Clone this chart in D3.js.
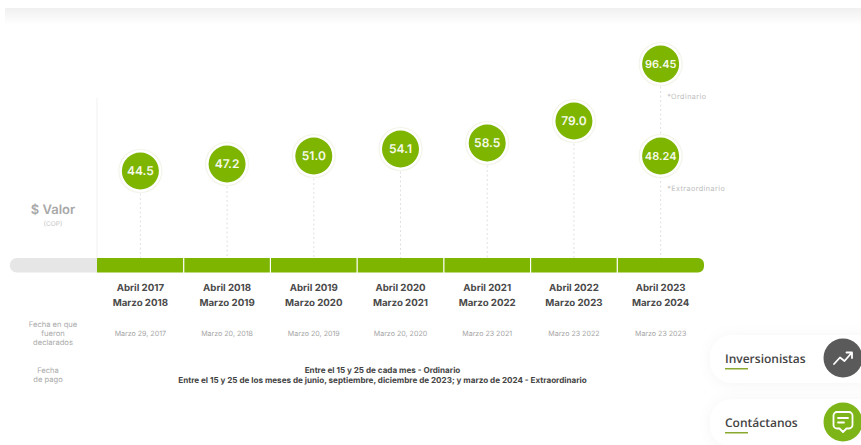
<!DOCTYPE html>
<html lang="es">
<head>
<meta charset="utf-8">
<title>Dividendos por periodo</title>
<script src="https://cdn.jsdelivr.net/npm/d3@7/dist/d3.min.js"></script>
<style>
  html, body { margin: 0; padding: 0; background: #fff; overflow: hidden; }
  svg { display: block; font-family: Inter, "Open Sans", sans-serif; text-rendering: geometricPrecision; }
</style>
</head>
<body>
<div id="chart"></div>
<script>
// Dividend periods and values
const periodStart = ["Abril 2017", "Abril 2018", "Abril 2019", "Abril 2020", "Abril 2021", "Abril 2022", "Abril 2023"];
const periodEnd = ["Marzo 2018", "Marzo 2019", "Marzo 2020", "Marzo 2021", "Marzo 2022", "Marzo 2023", "Marzo 2024"];
const declaredDates = ["Marzo 29, 2017", "Marzo 20, 2018", "Marzo 20, 2019", "Marzo 20, 2020", "Marzo 23 2021", "Marzo 23 2022", "Marzo 23 2023"];
const ordinaryValues = ["44.5", "47.2", "51.0", "54.1", "58.5", "79.0", "96.45"];
const extraordinaryValues = [null, null, null, null, null, null, "48.24"];
const paymentLines = [
  "Entre el 15 y 25 de cada mes - Ordinario",
  "Entre el 15 y 25 de los meses de junio, septiembre, diciembre de 2023; y marzo de 2024 - Extraordinario"
];
const declaredLabel = ["Fecha en que", "fueron", "declarados"];
const paymentLabel = ["Fecha", "de pago"];

// The value axis is a stepped, non-proportional ramp
const rampValues = [44.5, 47.2, 48.24, 51, 54.1, 58.5, 79, 96.45];
const rampPixels = [171, 164, 156, 156, 149, 143, 121, 64];

const width = 861, height = 445;
const GREEN = "#7db500", BAND_TOP = 258, BAND_H = 14.5;

const svg = d3.select("#chart").append("svg")
  .attr("width", width).attr("height", height).attr("viewBox", [0, 0, width, height]);

const defs = svg.append("defs");
const topFade = defs.append("linearGradient").attr("id", "topFade")
  .attr("x1", 0).attr("x2", 0).attr("y1", 0).attr("y2", 1);
topFade.append("stop").attr("offset", 0).attr("stop-color", "#f0f0f0");
topFade.append("stop").attr("offset", 1).attr("stop-color", "#ffffff");

const cardShadow = defs.append("filter").attr("id", "cardShadow")
  .attr("x", "-20%").attr("y", "-40%").attr("width", "140%").attr("height", "180%");
cardShadow.append("feDropShadow").attr("dx", 0).attr("dy", 1).attr("stdDeviation", 7)
  .attr("flood-color", "#000").attr("flood-opacity", 0.045);

const x = d3.scaleBand().domain(periodStart).range([97, 704]);
const y = d3.scaleLinear().domain(rampValues).range(rampPixels);
const cx = d => x(d) + x.bandwidth() / 2;

// Header shadow along the top edge
svg.append("rect").attr("x", 5).attr("y", 8).attr("width", width - 5).attr("height", 17)
  .attr("fill", "url(#topFade)");

// Left rule of the chart area
svg.append("line").attr("x1", 97).attr("x2", 97).attr("y1", 98).attr("y2", BAND_TOP)
  .attr("stroke", "#f1f1f1");

// Dashed stems from each marker down to the band
svg.append("g").selectAll("line").data(periodStart).join("line")
  .attr("x1", cx).attr("x2", cx)
  .attr("y1", (d, i) => y(+ordinaryValues[i]))
  .attr("y2", BAND_TOP)
  .attr("stroke", "#e0e0e0").attr("stroke-width", 1).attr("stroke-dasharray", "2 2.5");

// Timeline band: grey lead-in, green periods
svg.append("path")
  .attr("d", `M97,${BAND_TOP}H17a7.25,7.25 0 0 0 0,${BAND_H}H97Z`)
  .attr("fill", "#e6e6e6");
svg.append("g").selectAll("path").data(periodStart).join("path")
  .attr("fill", GREEN)
  .attr("d", (d, i) => {
    const l = x(d), r = l + x.bandwidth(), last = i === periodStart.length - 1;
    return last
      ? `M${l},${BAND_TOP}H${r - 6}a6,6 0 0 1 6,6V${BAND_TOP + BAND_H - 6}a6,6 0 0 1 -6,6H${l}Z`
      : `M${l},${BAND_TOP}H${r}V${BAND_TOP + BAND_H}H${l}Z`;
  });
svg.append("g").selectAll("line").data(periodStart.slice(1)).join("line")
  .attr("x1", d => x(d)).attr("x2", d => x(d))
  .attr("y1", BAND_TOP - 1).attr("y2", BAND_TOP + BAND_H + 1)
  .attr("stroke", "#fff").attr("stroke-width", 1.2);

// Value markers
const markers = periodStart.flatMap((p, i) => {
  const list = [{ p, label: ordinaryValues[i] }];
  if (extraordinaryValues[i]) list.push({ p, label: extraordinaryValues[i] });
  return list;
});
const marker = svg.append("g").selectAll("g").data(markers).join("g")
  .attr("transform", d => `translate(${cx(d.p)},${y(+d.label)})`);
marker.append("circle").attr("r", 21.5).attr("fill", "#fff").attr("stroke", "#f3f4ea").attr("stroke-width", 1.2);
marker.append("circle").attr("r", 18.5).attr("fill", GREEN);
marker.append("text").attr("text-anchor", "middle").attr("dy", "0.36em")
  .attr("fill", "#f6faea").attr("font-weight", 600)
  .attr("font-size", d => d.label.length > 4 ? 11 : 12)
  .text(d => d.label);

// Notes next to the last column
const noteX = cx(periodStart[6]) + 6.5;
svg.append("text").attr("x", noteX).attr("y", 98.5).attr("font-size", 7.2)
  .attr("letter-spacing", 0.45).attr("fill", "#bcbcbc").text("*Ordinario");
svg.append("text").attr("x", noteX).attr("y", 190.5).attr("font-size", 7.2)
  .attr("letter-spacing", 0.45).attr("fill", "#bcbcbc").text("*Extraordinario");

// Period labels under the band
const labels = svg.append("g").attr("text-anchor", "middle").attr("fill", "#4a4a4a")
  .attr("font-weight", 700).attr("font-size", 9.7);
labels.selectAll(".start").data(periodStart).join("text").attr("class", "start")
  .attr("x", cx).attr("y", 290.5).text(d => d);
labels.selectAll(".end").data(periodEnd).join("text").attr("class", "end")
  .attr("x", (d, i) => cx(periodStart[i])).attr("y", 305.5).text(d => d);

// Declaration dates
svg.append("g").attr("text-anchor", "middle").attr("fill", "#a6a6a6").attr("font-size", 7.1)
  .selectAll("text").data(declaredDates).join("text")
  .attr("x", (d, i) => cx(periodStart[i])).attr("y", 335.5).text(d => d);

// Left column captions
svg.append("text").attr("x", 53).attr("y", 213.5).attr("text-anchor", "middle")
  .attr("font-size", 13).attr("font-weight", 600).attr("fill", "#a8a8a8").text("$ Valor");
svg.append("text").attr("x", 53).attr("y", 225.5).attr("text-anchor", "middle")
  .attr("font-size", 6.6).attr("fill", "#c6c6c6").text("(COP)");
svg.append("g").attr("text-anchor", "middle").attr("fill", "#ababab").attr("font-size", 7.6)
  .selectAll("text").data(declaredLabel).join("text")
  .attr("x", 53).attr("y", (d, i) => 326.5 + i * 9.2).text(d => d);
svg.append("g").attr("text-anchor", "middle").attr("fill", "#ababab").attr("font-size", 7.6)
  .selectAll("text").data(paymentLabel).join("text")
  .attr("x", 48).attr("y", (d, i) => 372.5 + i * 9.5).text(d => d);

// Payment schedule
svg.append("g").attr("text-anchor", "middle").attr("fill", "#444").attr("font-weight", 700).attr("font-size", 8.1)
  .selectAll("text").data(paymentLines).join("text")
  .attr("x", 382.5).attr("y", (d, i) => 372.5 + i * 10).text(d => d);

// Floating shortcut buttons
const shortcuts = [
  { name: "Inversionistas", top: 335, circle: "#5a5a5a" },
  { name: "Contáctanos", top: 399, circle: "#7db518" }
];
const shortcut = svg.append("g").selectAll("g").data(shortcuts).join("g")
  .attr("transform", d => `translate(0,${d.top})`);
shortcut.append("rect").attr("x", 710).attr("width", 170).attr("height", 48).attr("rx", 22)
  .attr("fill", "#fff").attr("filter", "url(#cardShadow)");
shortcut.append("text").attr("x", 725).attr("y", 27.5)
  .style("font-family", "'Open Sans', sans-serif").attr("font-weight", 600)
  .attr("font-size", 12).attr("fill", "#444").text(d => d.name);
shortcut.append("rect").attr("x", 725).attr("y", 33).attr("width", 23).attr("height", 1.5).attr("fill", "#8aa82e");
shortcut.append("circle").attr("cx", 843).attr("cy", 23).attr("r", 19.5).attr("fill", d => d.circle);

// Trend arrow icon
shortcut.filter((d, i) => i === 0).append("path")
  .attr("d", "M834,29 L840,22.5 L844.5,26 L851.5,18 M846.5,17.5 H852 V23")
  .attr("fill", "none").attr("stroke", "#fff").attr("stroke-width", 1.8)
  .attr("stroke-linecap", "round").attr("stroke-linejoin", "round");

// Speech bubble icon
const bubble = shortcut.filter((d, i) => i === 1).append("g")
  .attr("fill", "none").attr("stroke", "#fff").attr("stroke-width", 1.8)
  .attr("stroke-linecap", "round").attr("stroke-linejoin", "round");
bubble.append("path")
  .attr("d", "M837,13 H849 a3.5,3.5 0 0 1 3.5,3.5 V26 a3.5,3.5 0 0 1 -3.5,3.5 H846.5 L843,33 L839.5,29.5 H837 a3.5,3.5 0 0 1 -3.5,-3.5 V16.5 a3.5,3.5 0 0 1 3.5,-3.5 Z");
bubble.append("path").attr("d", "M838,19 H848 M838,23.5 H844");
</script>
</body>
</html>
